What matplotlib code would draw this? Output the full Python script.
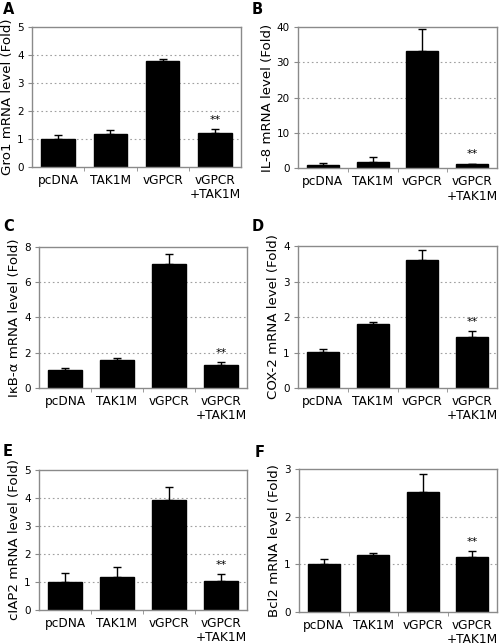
import matplotlib.pyplot as plt

# data
categories = ["pcDNA", "TAK1M", "vGPCR", "vGPCR\n+TAK1M"]

panel_letters = ["A", "B", "C", "D", "E", "F"]
ylabels = ["Gro1 mRNA level (Fold)", "IL-8 mRNA level (Fold)",
           "I\u03baB-\u03b1 mRNA level (Fold)", "COX-2 mRNA level (Fold)",
           "cIAP2 mRNA level (Fold)", "Bcl2 mRNA level (Fold)"]

gro1 = [1.0, 1.19, 3.77, 1.22]
gro1_err = [0.14, 0.12, 0.08, 0.14]
il8 = [0.95, 1.7, 33.2, 1.2]
il8_err = [0.5, 1.6, 6.3, 0.2]
ikba = [1.0, 1.59, 7.03, 1.33]
ikba_err = [0.13, 0.11, 0.57, 0.14]
cox2 = [1.01, 1.8, 3.61, 1.45]
cox2_err = [0.1, 0.06, 0.28, 0.15]
ciap2 = [0.99, 1.19, 3.93, 1.05]
ciap2_err = [0.34, 0.33, 0.45, 0.24]
bcl2 = [1.01, 1.19, 2.52, 1.16]
bcl2_err = [0.1, 0.04, 0.37, 0.11]

values = [gro1, il8, ikba, cox2, ciap2, bcl2]
errors = [gro1_err, il8_err, ikba_err, cox2_err, ciap2_err, bcl2_err]
ymaxes = [5, 40, 8, 4, 5, 3]
ysteps = [1, 10, 2, 1, 1, 1]

# axes rectangles (figure fraction)
positions = [
    [0.064, 0.7407, 0.418, 0.2174],
    [0.596, 0.7384, 0.398, 0.2197],
    [0.078, 0.3975, 0.416, 0.2190],
    [0.596, 0.3975, 0.398, 0.2205],
    [0.078, 0.0528, 0.416, 0.2174],
    [0.598, 0.0497, 0.396, 0.2220],
]
# panel letter positions in pixels from top-left
letter_xy = [(3, 2), (252, 2), (3, 219), (252, 219), (3, 444), (255, 445)]

W, H = 500, 644
fig = plt.figure(figsize=(W / 100, H / 100), dpi=100)
x = list(range(len(categories)))
spine_col = "#8a8a8a"

for i in range(6):
    ax = fig.add_axes(positions[i])
    vals = values[i]
    errs = errors[i]
    ymax = ymaxes[i]
    step = ysteps[i]

    ticks = [k * step for k in range(int(ymax / step) + 1)]
    for t in ticks[1:-1]:
        ax.axhline(t, color="#a0a0a0", lw=0.8, ls=(0, (1.5, 2.5)), zorder=0)

    ax.bar(x, vals, width=0.64, color="black", edgecolor="black", zorder=2)
    ax.errorbar(x, vals, yerr=[[0] * len(vals), errs], fmt="none",
                ecolor="black", elinewidth=1.0, capsize=3, capthick=1.0, zorder=3)

    # significance marker above the last bar
    ax.text(x[-1], vals[-1] + errs[-1] + ymax * 0.03, "**", ha="center",
            va="bottom", fontsize=8)

    ax.set_xlim(-0.5, len(categories) - 0.5)
    ax.set_ylim(0, ymax)
    ax.set_yticks(ticks)
    ax.set_yticklabels([str(t) for t in ticks], fontsize=7.5)
    ax.set_xticks(x)
    ax.set_xticklabels(categories, fontsize=8.7, linespacing=1.15)
    ax.set_xticks([0.5, 1.5, 2.5], minor=True)
    ax.tick_params(axis="x", which="major", length=0, pad=5)
    ax.tick_params(axis="x", which="minor", length=3, color=spine_col)
    ax.tick_params(axis="y", length=3, color=spine_col, pad=3)
    for s in ax.spines.values():
        s.set_color(spine_col)
        s.set_linewidth(1.0)
    ax.set_ylabel(ylabels[i], fontsize=9.6, labelpad=2)

    lx, ly = letter_xy[i]
    fig.text(lx / W, 1 - ly / H, panel_letters[i], fontsize=10.5,
             fontweight="bold", ha="left", va="top")

fig.savefig("out.png", dpi=100)
